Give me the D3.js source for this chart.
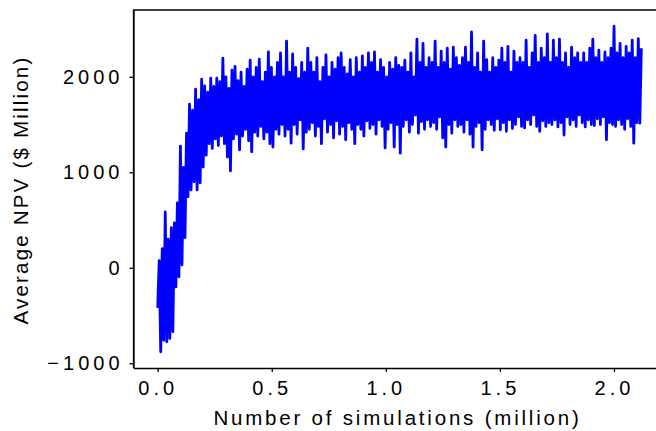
<!DOCTYPE html>
<html>
<head>
<meta charset="utf-8">
<script src="https://cdn.jsdelivr.net/npm/d3@7"></script>
<style>
    body { margin: 0; background: #fff; }
    #chart { width: 656px; height: 431px; overflow: hidden; }
    .axis text { font-family: "Liberation Sans", Arial, sans-serif; font-size: 20px; fill: #000; letter-spacing: 4px; }
    .axis-title { font-family: "Liberation Sans", Arial, sans-serif; font-size: 20.5px; fill: #000; }
    .x-title { letter-spacing: 2.8px; }
    .y-title { letter-spacing: 2.2px; }
</style>
</head>
<body>
<div id="chart"></div>
<script>

// total simulations covered by the run (million)
const totalSims = 2.12;

// running average NPV ($ Million), evenly spaced over the run
const avgNpv = [
    -420, 75, -880, 200, -760, 585, -775, 300, -740, 420, -670, 470, -200, 680, -95, 1275, 30, 1050, 315, 1410,
    745, 1715, 815, 1650, 900, 1870, 815, 1760, 890, 1975, 1055, 1905, 1180, 1840, 1300, 1985, 1250, 1900, 1350, 1985,
    1280, 1950, 1380, 2195, 1300, 2000, 1160, 1880, 1015, 2070, 1350, 2110, 1400, 1960, 1235, 2050, 1380, 1900, 1450, 2080,
    1330, 2175, 1215, 2000, 1420, 2100, 1380, 2185, 1480, 1950, 1350, 2050, 1420, 2260, 1300, 2100, 1265, 2000, 1450, 2150,
    1400, 2250, 1500, 2000, 1380, 2375, 1450, 2050, 1305, 2240, 1500, 2100, 1400, 1980, 1550, 2150, 1245, 2050, 1420, 2300,
    1450, 2150, 1520, 2050, 1380, 2200, 1480, 1950, 1300, 2100, 1560, 2230, 1420, 2000, 1500, 2150, 1360, 2080, 1540, 2200,
    1400, 2250, 1480, 2100, 1340, 2030, 1520, 2180, 1450, 2000, 1300, 2200, 1500, 2050, 1450, 2220, 1380, 2100, 1540, 2250,
    1460, 2150, 1500, 2260, 1400, 2050, 1550, 2180, 1480, 2100, 1255, 2000, 1450, 2150, 1520, 2080, 1265, 2200, 1500, 2120,
    1200, 2100, 1480, 2175, 1550, 2050, 1420, 2250, 1500, 2000, 1600, 2395, 1410, 2150, 1530, 2350, 1450, 2100, 1550, 2200,
    1480, 2150, 1520, 2375, 1450, 2100, 1580, 2270, 1360, 2150, 1265, 2300, 1500, 2080, 1410, 2310, 1550, 2200, 1480, 2120,
    1500, 2200, 1420, 2310, 1550, 2150, 1400, 2470, 1265, 2100, 1480, 2250, 1520, 2050, 1235, 2375, 1450, 2180, 1550, 2050,
    1500, 2200, 1440, 2100, 1560, 2175, 1445, 2300, 1520, 2150, 1430, 2320, 1550, 2050, 1460, 2270, 1500, 2150, 1580, 2200,
    1480, 2150, 1465, 2385, 1550, 2100, 1500, 2250, 1600, 2435, 1480, 2150, 1430, 2300, 1540, 2200, 1480, 2450, 1520, 2150,
    1500, 2385, 1550, 2200, 1475, 2395, 1520, 2150, 1390, 2250, 1580, 2100, 1500, 2310, 1550, 2200, 1480, 2250, 1600, 2150,
    1520, 2250, 1475, 2150, 1550, 2300, 1500, 2395, 1490, 2200, 1560, 2280, 1500, 2150, 1580, 2260, 1340, 2200, 1520, 2300,
    1500, 2530, 1480, 2250, 1550, 2350, 1500, 2200, 1450, 2320, 1560, 2250, 1480, 2385, 1305, 2200, 1520, 2400, 1515, 2300
];

const xTicks = [0.0, 0.5, 1.0, 1.5, 2.0];
const yTicks = [-1000, 0, 1000, 2000];

const xTitle = "Number of simulations (million)";
const yTitle = "Average NPV ($ Million)";


class convergenceChart {

    constructor(parentElement, values) {
        this.parentElement = parentElement;
        this.values = values;

        this.initVis();
    }

    initVis() {
        let vis = this;

        // plot box; the right edge runs past the window, as in the source
        vis.margin = {top: 10, left: 133.5};
        vis.width = 532;
        vis.height = 358;

        vis.svg = d3.select("#" + vis.parentElement).append("svg")
            .attr("width", 656)
            .attr("height", 431)
            .append("g")
            .attr("transform", `translate(${vis.margin.left}, ${vis.margin.top})`);

        vis.x = d3.scaleLinear()
            .domain([-0.106, 2.226])
            .range([0, vis.width]);

        vis.y = d3.scaleLinear()
            .domain([-1050, 2700])
            .range([vis.height, 0]);

        vis.xAxis = d3.axisBottom(vis.x)
            .tickValues(xTicks)
            .tickFormat(d3.format(".1f"))
            .tickSizeInner(4)
            .tickSizeOuter(0)
            .tickPadding(9);

        vis.yAxis = d3.axisLeft(vis.y)
            .tickValues(yTicks)
            .tickFormat(d => d < 0 ? "\u2212" + Math.abs(d) : d)
            .tickSizeInner(4)
            .tickSizeOuter(0)
            .tickPadding(6);

        this.wrangleData();
    }

    wrangleData() {
        let vis = this;

        let n = vis.values.length;
        vis.displayData = vis.values.map((v, i) => ({
            sims: i / (n - 1) * totalSims,
            npv: v
        }));

        this.updateVis();
    }

    updateVis() {
        let vis = this;

        let line = d3.line()
            .x(d => vis.x(d.sims))
            .y(d => vis.y(d.npv));

        vis.svg.append("path")
            .datum(vis.displayData)
            .attr("fill", "none")
            .attr("stroke", "#0000ff")
            .attr("stroke-width", 2.8)
            .attr("stroke-linejoin", "round")
            .attr("d", line);

        // axes
        vis.svg.append("g")
            .attr("class", "x-axis axis")
            .attr("transform", `translate(0, ${vis.height})`)
            .call(vis.xAxis);

        vis.svg.append("g")
            .attr("class", "y-axis axis")
            .call(vis.yAxis);

        // top and right spines
        vis.svg.append("path")
            .attr("d", `M0,${vis.height}V0H${vis.width}V${vis.height}`)
            .attr("fill", "none")
            .attr("stroke", "#000")
            .attr("stroke-width", 1.3);

        vis.svg.selectAll(".axis path, .axis line")
            .attr("stroke", "#000")
            .attr("stroke-width", 1.3);

        // titles
        vis.svg.append("text")
            .attr("class", "axis-title x-title")
            .attr("x", 264)
            .attr("y", 415)
            .attr("text-anchor", "middle")
            .text(xTitle);

        vis.svg.append("text")
            .attr("class", "axis-title y-title")
            .attr("transform", `translate(-105.8, ${vis.height / 2 + 1}) rotate(-90)`)
            .attr("text-anchor", "middle")
            .text(yTitle);
    }
}

new convergenceChart("chart", avgNpv);

</script>
</body>
</html>
